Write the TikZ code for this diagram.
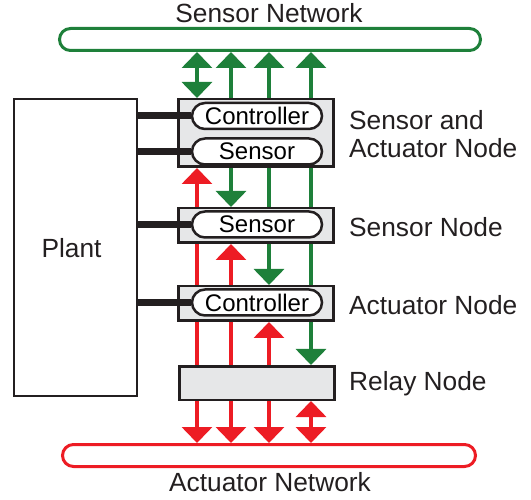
\documentclass[tikz,border=0pt]{standalone}
\usepackage{fontspec}
\setmainfont{Liberation Sans}
\usetikzlibrary{arrows.meta,backgrounds}
\definecolor{netgreen}{RGB}{30,128,58}
\definecolor{netred}{RGB}{237,28,36}
\definecolor{boxgray}{RGB}{230,231,232}
\definecolor{ink}{RGB}{35,31,32}
\tikzset{
  nodebox/.style={draw=ink,line width=2.5pt,fill=boxgray,minimum width=155pt,inner sep=0pt},
  unit/.style={draw=ink,line width=2.5pt,fill=white,rounded corners=13pt,minimum width=130pt,minimum height=26pt,inner sep=0pt,font=\fontsize{24}{28}\selectfont},
  net/.style={line width=3pt,fill=white,rounded corners=11pt,minimum height=22pt,inner sep=0pt},
  lbl/.style={font=\fontsize{26.3}{28}\selectfont,inner sep=0pt,text=ink},
  link/.style={ink,line width=7pt},
  flow/.style={line width=3.5pt,-{Triangle[width=30pt,length=16pt]}},
  twoway/.style={line width=3.5pt,{Triangle[width=30pt,length=16pt]}-{Triangle[width=30pt,length=16pt]}},
}
\begin{document}
\begin{tikzpicture}[x=1pt,y=-1pt]
\useasboundingbox (0,0) rectangle (531,500);
\node[net,draw=netgreen,minimum width=421pt] (sn) at (270,39.5) {};
\node[net,draw=netred,minimum width=413pt] (an) at (269,455.5) {};
\node[lbl,anchor=base] (snlbl) at (269,23) {Sensor Network};
\node[lbl,anchor=base] (anlbl) at (270,491) {Actuator Network};

\node[draw=ink,line width=2pt,fill=white,minimum width=123pt,minimum height=297pt,lbl,text depth=0pt] (plant) at (75.5,247.5) {Plant\hspace*{8pt}};

\node[nodebox,minimum height=67.5pt] (sac) at (256,133) {};
\node[nodebox,minimum height=34.5pt] (sen) at (256,225.5) {};
\node[nodebox,minimum height=34.5pt] (act) at (256,303.5) {};
\node[nodebox,minimum height=33.5pt] (rel) at (257,383) {};

\node[unit] (u1) at (257,116) {Controller};
\node[unit] (u2) at (257,151.5) {Sensor};
\node[unit] (u3) at (257,224.5) {Sensor};
\node[unit] (u4) at (257,302.5) {Controller};

\foreach \u in {u1,u2,u3,u4}
  \draw[link] (plant.east |- \u) -- (\u.west);

\node[lbl,anchor=base west,align=left] (saclbl) at (349,158) {Sensor and\\Actuator Node};
\node[lbl,anchor=base west] (senlbl) at (349,237) {Sensor Node};
\node[lbl,anchor=base west] (actlbl) at (349,315) {Actuator Node};
\node[lbl,anchor=base west] (rellbl) at (349,390) {Relay Node};

\foreach \c/\x in {c1/197,c2/231,c3/269,c4/311}
  \coordinate (\c) at (\x,0);

\begin{scope}[on background layer]
\draw[twoway,netgreen] (c1 |- sn.south) -- (c1 |- sac.north);
\foreach \c in {c2,c3,c4}
  \draw[flow,netgreen] (\c |- sac.north) -- (\c |- sn.south);
\foreach \c/\b in {c2/sen,c3/act,c4/rel}
  \draw[flow,netgreen] (\c |- sac.south) -- (\c |- \b.north);
\foreach \c/\b in {c1/sac,c2/sen,c3/act}
  \draw[flow,netred] (\c |- rel.north) -- (\c |- \b.south);
\foreach \c in {c1,c2,c3}
  \draw[flow,netred] (\c |- rel.south) -- (\c |- an.north);
\draw[twoway,netred] (c4 |- rel.south) -- (c4 |- an.north);
\end{scope}
\end{tikzpicture}
\end{document}
